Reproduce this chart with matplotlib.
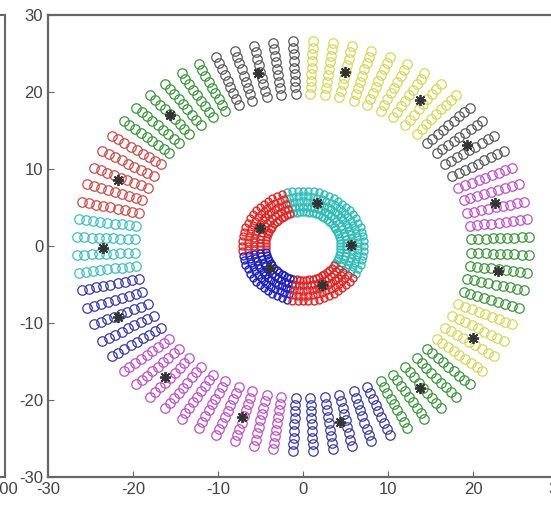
import numpy as np
import matplotlib.pyplot as plt

plt.rcParams['font.family'] = ['Liberation Sans', 'DejaVu Sans']
plt.rcParams['axes.unicode_minus'] = False

# outer ring: spoke angles (deg) per cluster
outer_cluster_angles = [
    [-17.5, -12.5, -7.5, -2.5, 2.5],
    [7.5, 12.5, 17.5, 22.5],
    [27.5, 32.5, 37.5, 42.5],
    [47.5, 52.5, 57.5, 62.5],
    [67.5, 72.5, 77.5, 82.5, 87.5],
    [92.5, 97.5, 102.5, 107.5, 112.5],
    [117.5, 122.5, 127.5, 132.5, 137.5, 142.5],
    [147.5, 152.5, 157.5, 162.5, 167.5],
    [172.5, 177.5, 182.5, 187.5],
    [192.5, 197.5, 202.5, 207.5, 212.5],
    [217.5, 222.5, 227.5, 232.5, 237.5],
    [242.5, 247.5, 252.5, 257.5, 262.5],
    [267.5, 272.5, 277.5, 282.5, 287.5, 292.5],
    [297.5, 302.5, 307.5, 312.5, 317.5],
    [322.5, 327.5, 332.5, 337.5],
]
outer_colors = ['#3c963c', '#c050c8', '#5a5a5a', '#d6d858', '#d6d858',
                '#5a5a5a', '#3c963c', '#d04a4a', '#40c0c0', '#3a3aa8',
                '#c050c8', '#c050c8', '#3a3aa8', '#3c963c', '#d6d858']
outer_radii = [19.8, 20.65, 21.5, 22.35, 23.2, 24.05, 24.9, 25.75, 26.6]

# inner ring
inner_cluster_angles = [
    [330, 335, 340, 345, 350, 355, 0, 5, 10, 15, 20, 25, 30, 35],
    [40, 45, 50, 55, 60, 65, 70, 75, 80, 85, 90, 95, 100, 105],
    [110, 115, 120, 125, 130, 135, 140, 145, 150, 155, 160, 165, 170, 175, 180, 185],
    [190, 195, 200, 205, 210, 215, 220, 225, 230, 235, 240, 245, 250, 255],
    [260, 265, 270, 275, 280, 285, 290, 295, 300, 305, 310, 315, 320, 325],
]
inner_colors = ['#30bdb8', '#30bdb8', '#e02828', '#2020c0', '#e02828']
inner_radii = [4.4, 5.1, 5.8, 6.5, 7.2]

# cluster centres
centers_x = [22.9, 22.6, 19.3, 13.8, 4.9, -5.3, -15.6, -21.8, -23.5, -21.8,
             -16.2, -7.2, 4.4, 13.8, 20.0, 5.7, 1.6, -5.1, -3.9, 2.2]
centers_y = [-3.3, 5.6, 13.1, 19.0, 22.6, 22.5, 17.0, 8.6, -0.3, -9.2,
             -17.0, -22.2, -22.9, -18.4, -12.0, 0.1, 5.6, 2.3, -2.9, -5.1]

fig = plt.figure(figsize=(5.51, 5.09), dpi=100)

# neighbouring subplot, only its right edge is visible
ax0 = fig.add_axes([-400 / 551, 32 / 509, 405 / 551, 462 / 509])
ax0.set_xlim(0, 100)
ax0.set_ylim(-30, 30)
ax0.set_xticks([100])
ax0.set_yticks([])
ax0.tick_params(axis='x', direction='in', labelsize=12, labelcolor='#444444', length=3)
for s in ax0.spines.values():
    s.set_color('#666666')
    s.set_linewidth(1.5)

ax = fig.add_axes([48 / 551, 32 / 509, 510 / 551, 462 / 509])

for angs, col in zip(outer_cluster_angles, outer_colors):
    a = np.deg2rad(np.array(angs))
    r = np.array(outer_radii)
    xs = (r[None, :] * np.cos(a)[:, None]).ravel()
    ys = (r[None, :] * np.sin(a)[:, None]).ravel()
    ax.plot(xs, ys, 'o', mfc='none', mec=col, ms=6.8, mew=0.9)

for angs, col in zip(inner_cluster_angles, inner_colors):
    a = np.deg2rad(np.array(angs))
    r = np.array(inner_radii)
    xs = (r[None, :] * np.cos(a)[:, None]).ravel()
    ys = (r[None, :] * np.sin(a)[:, None]).ravel()
    ax.plot(xs, ys, 'o', mfc='none', mec=col, ms=5, mew=1.0)

ax.plot(centers_x, centers_y, linestyle='none', marker=(8, 2, 0),
        color='#333333', ms=8, mew=1.3, zorder=5)

ax.set_xlim(-30, 30)
ax.set_ylim(-30, 30)
ax.set_xticks([-30, -20, -10, 0, 10, 20, 30])
ax.set_yticks([-30, -20, -10, 0, 10, 20, 30])
ax.tick_params(direction='in', labelsize=12, labelcolor='#444444',
               color='#666666', length=4, top=False, right=True)
for s in ax.spines.values():
    s.set_color('#666666')
    s.set_linewidth(1.6)

fig.savefig('out.png', dpi=100)
